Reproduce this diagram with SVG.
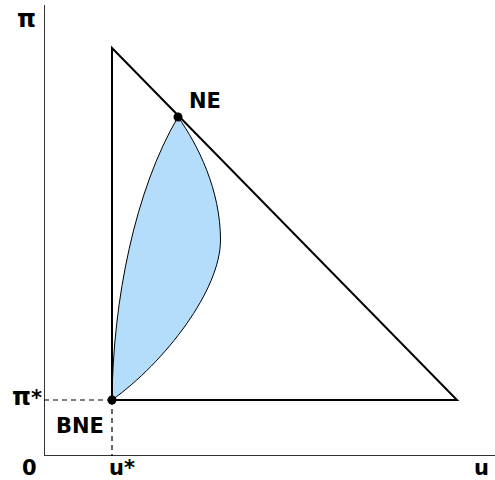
<svg xmlns="http://www.w3.org/2000/svg" width="495" height="480" viewBox="0 0 495 480">
<style>
.lbl{font-family:"DejaVu Sans","Liberation Sans",sans-serif;font-weight:bold;font-size:21px;fill:#000}
.pi{font-size:24px}
.axis{stroke:#333;stroke-width:1;fill:none}
.dash{stroke:#000;stroke-width:1.2;stroke-dasharray:5,4;fill:none}
.tri{stroke:#000;stroke-width:2;fill:none;stroke-linejoin:miter}
.dot{fill:#000}
</style>
<rect width="495" height="480" fill="#fff"/>
<g id="axes">
<line class="axis" x1="44.5" y1="5" x2="44.5" y2="456"/>
<line class="axis" x1="44" y1="455.5" x2="495" y2="455.5"/>
<text class="lbl pi" x="17" y="27">π</text>
<text class="lbl" x="22" y="475">0</text>
<text class="lbl" x="474" y="475">u</text>
</g>
<g id="region">
<path d="M112,400 C113,300 135,190 178,117 C198,145 220.5,190 220.5,240 C220.5,290 165,362 112,400 Z" fill="#b4ddfc" stroke="#000" stroke-width="1"/>
</g>
<g id="triangle">
<path class="tri" d="M112,48 L112,400 L457,400 Z"/>
</g>
<g id="guides">
<line class="dash" x1="44" y1="400" x2="112" y2="400"/>
<line class="dash" x1="112" y1="400" x2="112" y2="456"/>
<text class="lbl" x="12" y="405"><tspan class="pi">π</tspan>*</text>
<text class="lbl" x="109" y="475">u*</text>
</g>
<g id="BNE">
<circle class="dot" cx="112" cy="400" r="4.5"/>
<text class="lbl" x="56" y="433">BNE</text>
</g>
<g id="NE">
<circle class="dot" cx="178" cy="117" r="4.5"/>
<text class="lbl" x="189" y="108">NE</text>
</g>
</svg>
